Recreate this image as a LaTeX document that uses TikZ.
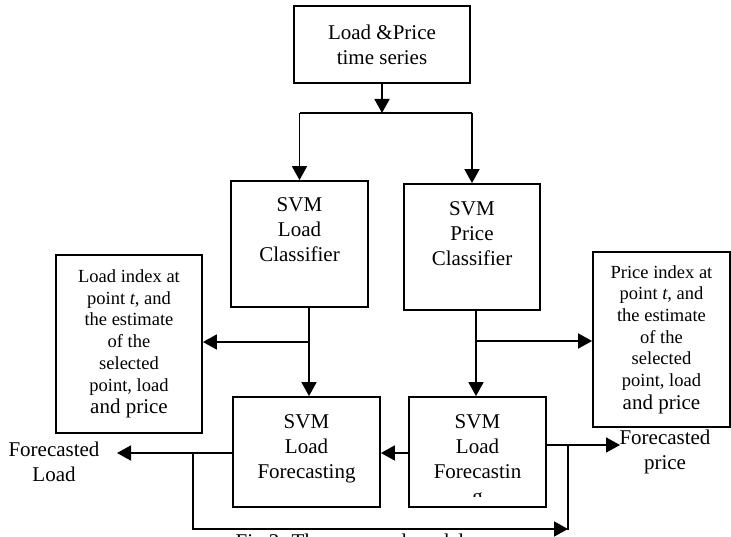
\documentclass[tikz,border=0pt]{standalone}
\usepackage{fontspec}
\setmainfont{Liberation Serif}
\usetikzlibrary{arrows.meta,positioning}

\begin{document}
\begin{tikzpicture}[x=1pt,y=-1pt,>={Triangle[length=14pt,width=15pt]},line width=1.8pt]
\tikzset{
	blk/.style={draw,rectangle,inner sep=0pt},
	txt/.style={align=center,inner sep=0pt,font=\fontsize{21}{25}\selectfont},
	small/.style={align=center,inner sep=0pt,font=\fontsize{18.5}{21.7}\selectfont}
}
\useasboundingbox (0,0) rectangle (731,537);
% blocks
\node[blk,minimum width=176,minimum height=77](src) at (382,44.5){};
\node[txt](srcT) at (src){Load \&Price\\time series};
\node[blk,minimum width=137,minimum height=126](lcls) at (299.5,244){};
\node[txt,below=17pt of lcls.north](lclsT){SVM\\Load\\Classifier};
\node[blk,minimum width=136,minimum height=126](pcls) at (472,247){};
\node[txt,below=18pt of pcls.north](pclsT){SVM\\Price\\Classifier};
\node[blk,minimum width=146,minimum height=178](linfo) at (129,344){};
\node[small](linfoT) at (linfo){Load index at\\point \textit{t}, and\\the estimate\\of the\\selected\\point, load\\[1pt]
	{\fontsize{21}{25}\selectfont and price}};
\node[blk,minimum width=137,minimum height=175](pinfo) at (661.5,339.5){};
\node[small](pinfoT) at (pinfo){Price index at\\point \textit{t}, and\\the estimate\\of the\\selected\\point, load\\[1pt]
	{\fontsize{21}{25}\selectfont and price}};
\node[blk,minimum width=147,minimum height=110](lfc) at (306.5,452){};
\node[txt,below=18pt of lfc.north](lfcT){SVM\\Load\\Forecasting};
\node[blk,minimum width=137,minimum height=110](pfc) at (477.5,452){};
\begin{scope}
	\clip (409,397) rectangle (546,496);
	\node[txt,below=18pt of pfc.north](pfcT){SVM\\Load\\Forecastin\\g};
\end{scope}
% outputs
\node[txt](lout) at (54,462){Forecasted\\Load};
\node[txt](pout) at (665,452){Forecasted\\price};
\node[txt,anchor=base](cap) at (350,548){Fig.3. The proposed model};
\coordinate (split) at (382,113);
\coordinate (lbr) at (309,342);
\coordinate (pbr) at (476,341);
\coordinate (ltip) at (117,453);
\coordinate (ptip) at (620,445);
\coordinate (lloop) at (193,453);
\coordinate (rloop) at (568,529);
% connectors
\draw[->] (src) -- (split);
\draw (split -| lcls) -- (split -| pcls);
\draw[->] (split -| lcls) -- (lcls);
\draw[->] (split -| pcls) -- (pcls);
\draw[->] (lcls.south -| lbr) -- (lfc.north -| lbr);
\draw[->] (lbr) -- (linfo.east |- lbr);
\draw[->] (pcls.south -| pbr) -- (pfc.north -| pbr);
\draw[->] (pbr) -- (pinfo.west |- pbr);
\draw[->] (lfc.west |- ltip) -- (ltip);
\draw[->] (pfc.west |- ltip) -- (lfc.east |- ltip);
\draw[->] (pfc.east |- ptip) -- (ptip);
\draw[->] (lloop) |- (rloop);
\draw (rloop |- ptip) -- ([yshift=-1pt]rloop);
\end{tikzpicture}
\end{document}
